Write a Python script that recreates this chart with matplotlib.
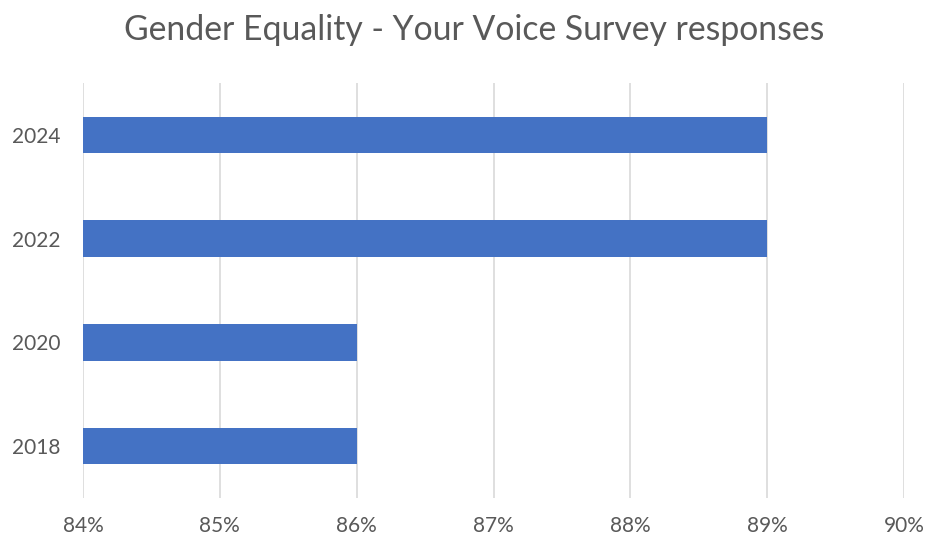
import matplotlib
matplotlib.use("Agg")
import matplotlib.pyplot as plt

years = ["2018", "2020", "2022", "2024"]
values = [86, 86, 89, 89]
xticks = [84, 85, 86, 87, 88, 89, 90]
xlabels = ["84%", "85%", "86%", "87%", "88%", "89%", "90%"]

plt.rcParams['font.family'] = ['Lato', 'DejaVu Sans']

fig = plt.figure(figsize=(9.28, 5.37), dpi=100)
ax = fig.add_axes([83/928, 1-498/537, (904-83)/928, (498-83)/537])

ax.barh(range(len(years)), [v - 84 for v in values], left=84, height=0.35, color="#4472c4", zorder=3)
ax.set_xlim(84, 90)
ax.set_ylim(-0.5, len(years) - 0.5)
ax.set_yticks(range(len(years)))
ax.set_yticklabels(years)
ax.set_xticks(xticks)
ax.set_xticklabels(xlabels)
ax.grid(axis="x", color="#d9d9d9", linewidth=1.2, zorder=0)
for s in ax.spines.values():
    s.set_visible(False)
ax.tick_params(length=0, labelsize=15, colors="#595959")
ax.tick_params(axis="x", pad=13)
ax.tick_params(axis="y", pad=16)

fig.text(474/928, 1-30/537, "Gender Equality - Your Voice Survey responses", ha="center", va="center",
         fontsize=24.3, color="#595959")

fig.savefig("out.png", dpi=100, facecolor="white")
